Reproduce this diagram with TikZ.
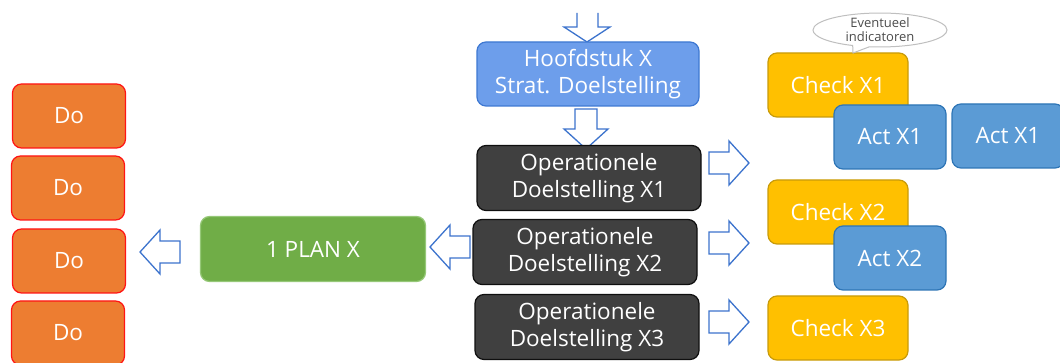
\documentclass[tikz,border=0pt]{standalone}
\usepackage{fontspec}
\setmainfont{Open Sans}
\usetikzlibrary{shapes.callouts}
\definecolor{hoofdfill}{RGB}{109,158,235}
\definecolor{hoofdline}{RGB}{62,120,210}
\definecolor{opfill}{RGB}{64,64,64}
\definecolor{opline}{RGB}{15,15,15}
\definecolor{checkfill}{RGB}{255,192,0}
\definecolor{checkline}{RGB}{200,155,10}
\definecolor{actfill}{RGB}{91,155,213}
\definecolor{actline}{RGB}{46,117,182}
\definecolor{planfill}{RGB}{112,173,71}
\definecolor{planline}{RGB}{150,200,120}
\definecolor{dofill}{RGB}{237,125,49}
\definecolor{doline}{RGB}{255,20,20}
\definecolor{arrowline}{RGB}{60,115,205}
\tikzset{
  box/.style={rounded corners=9pt, line width=1.2pt, inner sep=0pt,
    text=white, align=center, font=\fontsize{22.5}{27}\selectfont},
  hoofdbox/.style={box, fill=hoofdfill, draw=hoofdline,
    minimum width=222pt, minimum height=64pt},
  opbox/.style={box, fill=opfill, draw=opline,
    minimum width=224pt, minimum height=65pt},
  checkbox/.style={box, fill=checkfill, draw=checkline,
    minimum width=140pt, minimum height=64pt},
  actbox/.style={box, fill=actfill, draw=actline,
    minimum width=112pt, minimum height=64pt},
  planbox/.style={box, fill=planfill, draw=planline,
    minimum width=225pt, minimum height=65pt},
  dobox/.style={box, fill=dofill, draw=doline,
    minimum width=113pt, minimum height=64pt},
  hollow/.style={draw=arrowline, fill=white, line width=1.3pt, line join=miter},
  pics/blockarrow/.style={code={
    \draw[hollow] (0,-11) -- (20,-11) -- (20,-22) -- (40,0) -- (20,22)
      -- (20,11) -- (0,11) -- cycle;
  }},
}
\begin{document}
\begin{tikzpicture}[x=1pt, y=-1pt]
\useasboundingbox (0,0) rectangle (1060,363);

% incoming arrow from above (its tail lies beyond the top edge)
\draw[hollow] (577,13) -- (577,27) -- (564,27) -- (587,42) -- (610,27)
  -- (598,27) -- (598,13);

% main column
\node[hoofdbox] (hoofd) at (588,74) {Hoofdstuk X\\Strat. Doelstelling};
\pic[rotate=-90] at (586,109) {blockarrow};
\node[opbox] (op1) at (589,178) {Operationele\\Doelstelling X1};
\node[opbox] (op2) at (585,252) {Operationele\\Doelstelling X2};
\node[opbox] (op3) at (587,327) {Operationele\\Doelstelling X3};

% arrows to the check boxes
\pic at (709,163) {blockarrow};
\pic at (709,243) {blockarrow};
\pic at (709,322) {blockarrow};

% check / act column
\node[checkbox] (check1) at (838,85) {Check X1};
\node[actbox] (act1) at (890,137) {Act X1};
\node[actbox] (act1b) at (1008,136) {Act X1};
\node[checkbox] (check2) at (838,212) {Check X2};
\node[actbox] (act2) at (890,258) {Act X2};
\node[checkbox] (check3) at (838,328) {Check X3};

\node[ellipse callout, draw=black!25, fill=white, line width=1pt,
  minimum width=134pt, minimum height=30pt, inner sep=0pt,
  text=black!70, align=center, font=\fontsize{13}{14}\selectfont,
  callout absolute pointer={(853,53)}] (note) at (880,30)
  {Eventueel\\indicatoren};

% plan and do column
\pic[rotate=180] at (470,247) {blockarrow};
\node[planbox] (plan) at (313,249) {1 PLAN X};
\pic[rotate=180] at (180,252) {blockarrow};

\node[dobox] (do1) at (69,116) {Do};
\node[dobox] (do2) at (68,188) {Do};
\node[dobox] (do3) at (69,261) {Do};
\node[dobox] (do4) at (68,333) {Do};
\end{tikzpicture}
\end{document}
